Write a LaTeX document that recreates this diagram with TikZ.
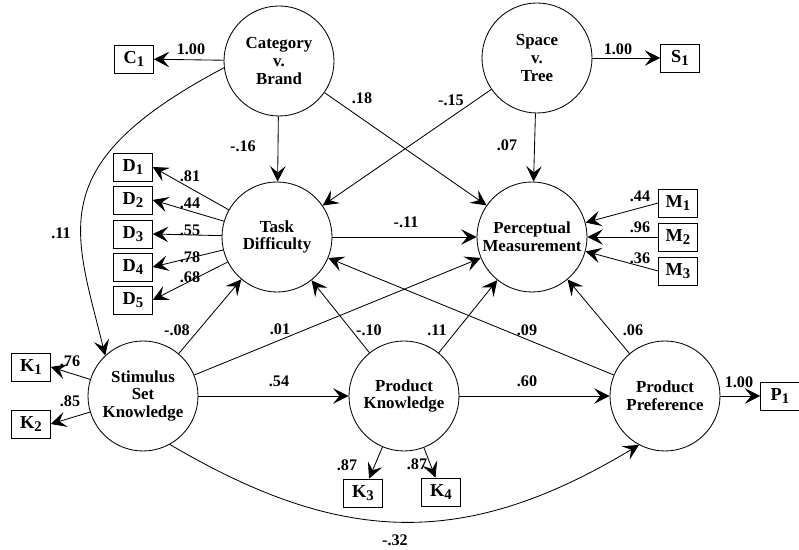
\documentclass[tikz,border=0pt]{standalone}
\usepackage{fontspec}
\setmainfont{Liberation Serif}
\usetikzlibrary{arrows.meta, positioning}

\newcommand{\obsv}[2]{#1\raisebox{-0.45ex}{\fontsize{10.5}{10.5}\selectfont #2}}

\begin{document}
\begin{tikzpicture} [
    >={Stealth[length=11pt, width=11pt, inset=4.5pt]},
    latent/.style={circle, draw=black, line width=0.6pt, minimum size=2.75cm, inner sep=0pt, align=center, font=\fontsize{12}{12.5}\selectfont\bfseries},
    observed/.style={rectangle, draw=black, line width=0.5pt, minimum width=0.97cm, minimum height=0.7cm, inner sep=0pt, font=\fontsize{13}{13}\selectfont\bfseries},
    coef/.style={font=\fontsize{11.5}{12}\selectfont\bfseries, inner sep=1pt},
    arrow/.style={->, line width=0.6pt}
]
\useasboundingbox (0,0) rectangle (19.975,13.75);

% latent variables
\node[latent] (cb) at (6.975,12.225) {Category\\v.\\Brand};
\node[latent] (st) at (13.425,12.3) {Space\\v.\\Tree};
\node[latent] (td) at (6.925,7.825) {Task\\Difficulty};
\node[latent] (pm) at (13.3,7.825) {Perceptual\\Measurement};
\node[latent] (ssk) at (3.575,3.85) {Stimulus\\Set\\Knowledge};
\node[latent] (pk) at (10.1,3.85) {Product\\Knowledge};
\node[latent] (pp) at (16.625,3.85) {Product\\Preference};

% indicators
\node[observed] (c1) at (3.35,12.275) {\obsv{C}{1}};
\node[observed] (s1) at (17.0,12.3) {\obsv{S}{1}};
\node[observed] (d1) at (3.325,9.575) {\obsv{D}{1}};
\node[observed] (d2) at (3.325,8.75) {\obsv{D}{2}};
\node[observed] (d3) at (3.325,7.9) {\obsv{D}{3}};
\node[observed] (d4) at (3.325,7.075) {\obsv{D}{4}};
\node[observed] (d5) at (3.325,6.25) {\obsv{D}{5}};
\node[observed] (m1) at (16.95,8.675) {\obsv{M}{1}};
\node[observed] (m2) at (16.95,7.825) {\obsv{M}{2}};
\node[observed] (m3) at (16.95,6.975) {\obsv{M}{3}};
\node[observed] (k1) at (0.775,4.575) {\obsv{K}{1}};
\node[observed] (k2) at (0.775,3.15) {\obsv{K}{2}};
\node[observed] (k3) at (9.075,1.425) {\obsv{K}{3}};
\node[observed] (k4) at (11.025,1.45) {\obsv{K}{4}};
\node[observed] (p1) at (19.5,3.85) {\obsv{P}{1}};

% paths
\draw[arrow] (cb) -- (c1);
\draw[arrow] (st) -- (s1);
\draw[arrow] (cb) -- (td);
\draw[arrow] (cb) -- (pm);
\draw[arrow] (st) -- (td);
\draw[arrow] (st) -- (pm);
\draw[arrow] (td) -- (pm);
\draw[arrow] (ssk) -- (td);
\draw[arrow] (ssk) -- (pm);
\draw[arrow] (ssk) -- (pk);
\draw[arrow] (pk) -- (td);
\draw[arrow] (pk) -- (pm);
\draw[arrow] (pk) -- (pp);
\draw[arrow] (pp) -- (td);
\draw[arrow] (pp) -- (pm);
\draw[arrow] (pp) -- (p1);
\draw[arrow] (cb.187) .. controls (1.05,9.65) and (1.85,8.025) .. (ssk.133);
\draw[arrow] (ssk.-61) .. controls (8.55,0.1) and (11.65,0.025) .. (pp.242);

% loadings
\foreach \i in {1,...,5}
    \draw[arrow] (td) -- (d\i.east);
\foreach \i in {1,2,3}
    \draw[arrow] (m\i.west) -- (pm);
\draw[arrow] (ssk) -- (k1.east);
\draw[arrow] (ssk) -- (k2.east);
\draw[arrow] (pk) -- (k3);
\draw[arrow] (pk) -- (k4);

% coefficients
\node[coef] (c-c1) at (4.775,12.525) {1.00};
\node[coef] (c-s1) at (15.45,12.525) {1.00};
\node[coef] (c-cbtd) at (6.075,10.1) {-.16};
\node[coef] (c-cbpm) at (9.05,11.3) {.18};
\node[coef] (c-sttd) at (11.275,11.25) {-.15};
\node[coef] (c-stpm) at (12.675,10.125) {.07};
\node[coef] (c-tdpm) at (10.15,8.2) {-.11};
\node[coef] (c-m1) at (16.0,8.85) {.44};
\node[coef] (c-m2) at (16.0,8.075) {.96};
\node[coef] (c-m3) at (16.0,7.3) {.36};
\node[coef] (c-d1) at (4.75,9.35) {.81};
\node[coef] (c-d2) at (4.75,8.675) {.44};
\node[coef] (c-d3) at (4.75,8.0) {.55};
\node[coef] (c-d4) at (4.75,7.325) {.78};
\node[coef] (c-d5) at (4.75,6.825) {.68};
\node[coef] (c-cbssk) at (1.525,7.925) {.11};
\node[coef] (c-k1) at (1.75,4.725) {.76};
\node[coef] (c-k2) at (1.75,3.725) {.85};
\node[coef] (c-ssktd) at (4.425,5.5) {-.08};
\node[coef] (c-sskpm) at (7.0,5.525) {.01};
\node[coef] (c-sskpk) at (6.975,4.225) {.54};
\node[coef] (c-pktd) at (9.225,5.5) {-.10};
\node[coef] (c-pkpm) at (10.925,5.5) {.11};
\node[coef] (c-pptd) at (13.175,5.5) {.09};
\node[coef] (c-pppm) at (15.825,5.5) {.06};
\node[coef] (c-pkpp) at (13.175,4.225) {.60};
\node[coef] (c-p1) at (18.475,4.2) {1.00};
\node[coef] (c-k3) at (8.675,2.125) {.87};
\node[coef] (c-k4) at (10.425,2.15) {.87};
\node[coef] (c-ssspp) at (9.875,0.24) {-.32};

\end{tikzpicture}
\end{document}
